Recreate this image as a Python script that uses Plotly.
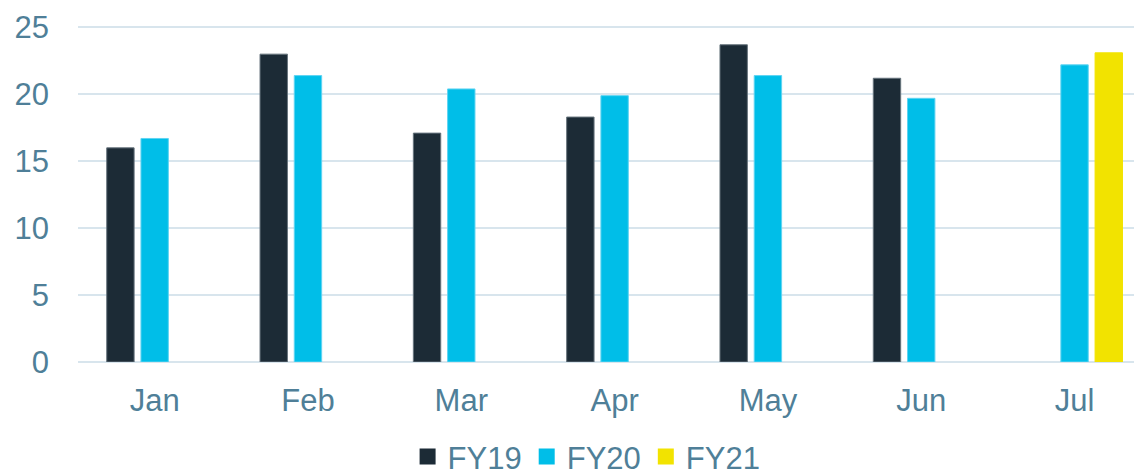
import plotly.graph_objects as go

# Data
months = ["Jan", "Feb", "Mar", "Apr", "May", "Jun", "Jul"]
fy19 = [16.0, 23.0, 17.1, 18.3, 23.7, 21.2, None]
fy20 = [16.7, 21.4, 20.4, 19.9, 21.4, 19.7, 22.2]
fy21 = [None, None, None, None, None, None, 23.1]

TEXT_COLOR = "#4f7f98"
GRID_COLOR = "#d8e5ed"
FONT = "Liberation Sans, Arial, sans-serif"
FONT_SIZE = 31

series = [
    ("FY19", fy19, "#1c2b36", "#66737c"),
    ("FY20", fy20, "#00bee8", "#5fd4f2"),
    ("FY21", fy21, "#f2e300", "#f2e300"),
]

fig = go.Figure()
for name, values, color, edge in series:
    fig.add_trace(
        go.Bar(
            x=months,
            y=values,
            name=name,
            marker=dict(color=color, line=dict(color=edge, width=1)),
            showlegend=False,
        )
    )
    # legend entry with a larger square swatch
    fig.add_trace(
        go.Scatter(
            x=[None],
            y=[None],
            mode="markers",
            name=name,
            marker=dict(symbol="square", size=17, color=color),
        )
    )

# the page body has an 8px margin, so the figure is sized to fit inside it
fig.update_layout(
    width=1134,
    height=463,
    margin=dict(l=70, r=0, t=6, b=109, autoexpand=False),
    paper_bgcolor="white",
    plot_bgcolor="white",
    barmode="group",
    bargap=0.33,
    bargroupgap=0.2,
    font=dict(family=FONT, size=FONT_SIZE, color=TEXT_COLOR),
    legend=dict(
        orientation="h",
        x=0.478,
        xanchor="center",
        y=-0.195,
        yanchor="top",
        font=dict(size=FONT_SIZE, color=TEXT_COLOR),
        itemwidth=30,
        tracegroupgap=0,
    ),
    showlegend=True,
)

fig.update_xaxes(
    range=[-0.5, 6.44],
    showgrid=False,
    showline=False,
    ticks="",
    ticklabelstandoff=17,
    automargin=False,
    tickfont=dict(size=FONT_SIZE, color=TEXT_COLOR),
)
fig.update_yaxes(
    range=[0, 26],
    tickvals=[0, 5, 10, 15, 20, 25],
    showgrid=True,
    gridcolor=GRID_COLOR,
    gridwidth=2,
    zeroline=True,
    zerolinecolor=GRID_COLOR,
    zerolinewidth=2,
    showline=False,
    ticks="",
    ticklabelstandoff=28,
    automargin=False,
    tickfont=dict(size=FONT_SIZE, color=TEXT_COLOR),
)

fig.write_html("out.html")
